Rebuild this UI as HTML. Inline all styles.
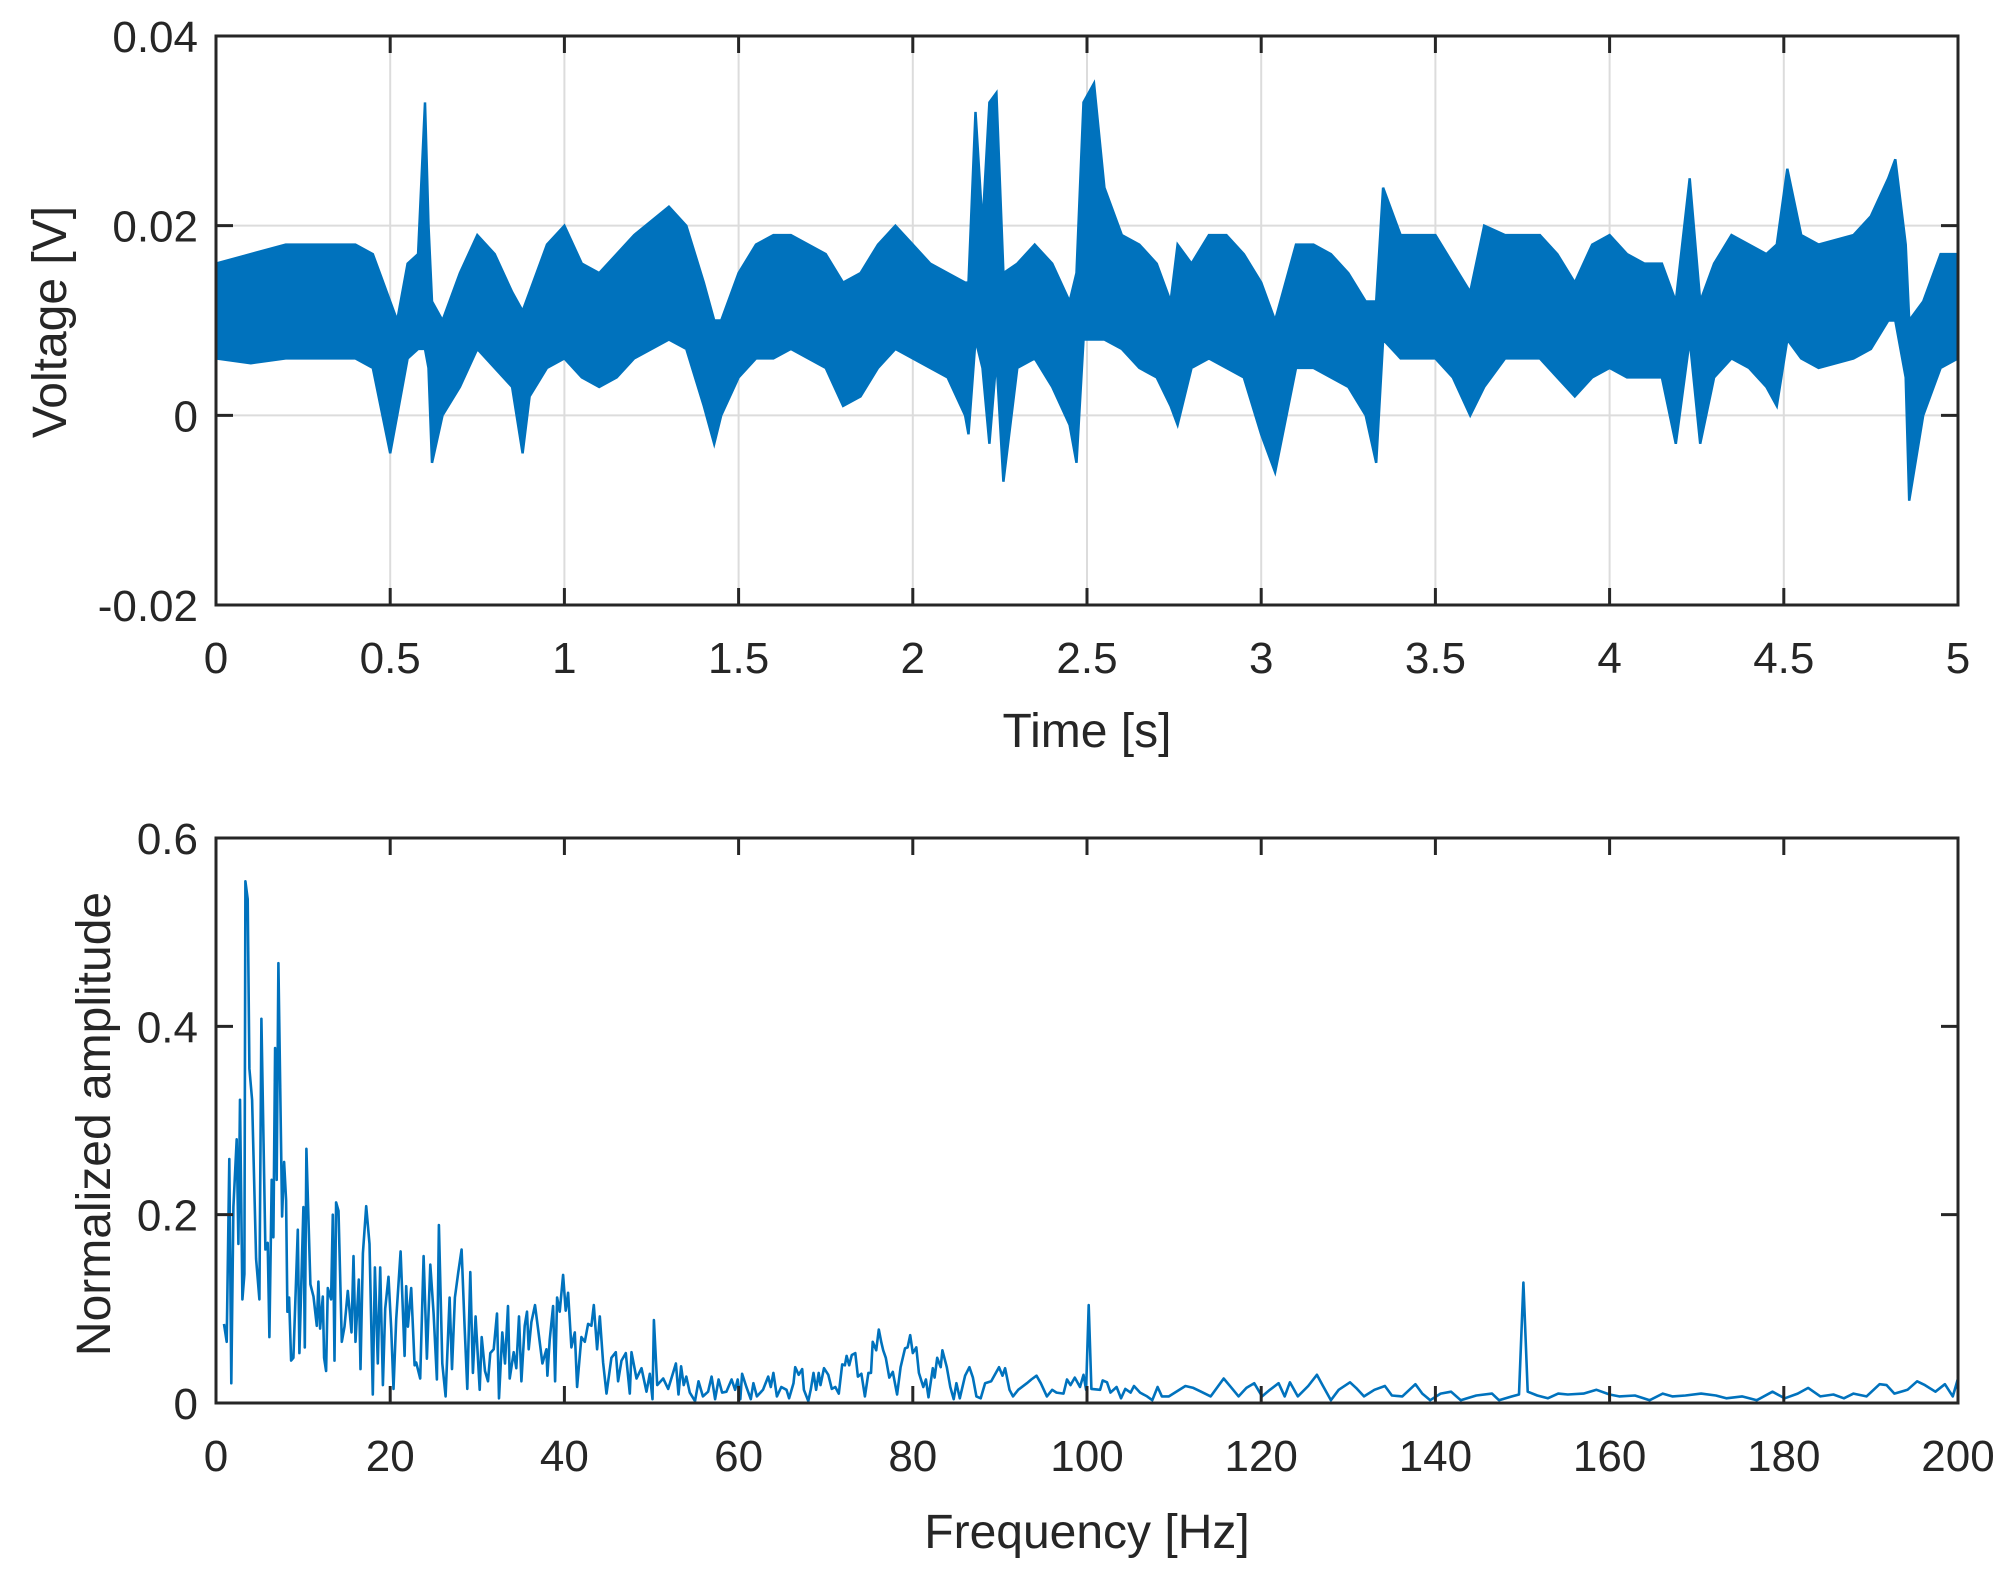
<!DOCTYPE html>
<html><head><meta charset="utf-8"><style>
html,body{margin:0;padding:0;background:#fff;}
svg{display:block;font-family:"Liberation Sans",Arial,sans-serif;}
</style></head><body>
<svg id="fig" width="2014" height="1571" viewBox="0 0 2014 1571" xmlns="http://www.w3.org/2000/svg"></svg>
<script>
// ---- Top chart data (voltage envelope, V) ----
const tTimes=[0,0.1,0.2,0.3,0.4,0.45,0.5,0.52,0.55,0.58,0.6,0.61,0.62,0.65,0.7,0.75,0.8,0.85,0.88,0.9,0.95,1.0,1.05,1.1,1.15,1.2,1.3,1.35,1.4,1.43,1.45,1.5,1.55,1.6,1.65,1.7,1.75,1.8,1.85,1.9,1.95,2.0,2.05,2.1,2.15,2.16,2.18,2.2,2.22,2.24,2.26,2.3,2.35,2.4,2.45,2.47,2.49,2.52,2.55,2.6,2.65,2.7,2.74,2.76,2.8,2.85,2.9,2.95,3.0,3.04,3.1,3.15,3.2,3.25,3.3,3.33,3.35,3.4,3.5,3.55,3.6,3.64,3.7,3.8,3.85,3.9,3.95,4.0,4.05,4.1,4.15,4.19,4.23,4.26,4.3,4.35,4.4,4.45,4.48,4.51,4.55,4.6,4.7,4.75,4.8,4.82,4.85,4.86,4.9,4.95,5.0];
const vHigh=[16,17,18,18,18,17,12,10,16,17,33,20,12,10,15,19,17,13,11,13,18,20,16,15,17,19,22,20,14,10,10,15,18,19,19,18,17,14,15,18,20,18,16,15,14,14,32,20,33,34,15,16,18,16,12,15,33,35,24,19,18,16,12,18,16,19,19,17,14,10,18,18,17,15,12,12,24,19,19,16,13,20,19,19,17,14,18,19,17,16,16,12,25,12,16,19,18,17,18,26,19,18,19,21,25,27,18,10,12,17,17];
const vLow=[6,5.5,6,6,6,5,-4,0,6,7,7,5,-5,0,3,7,5,3,-4,2,5,6,4,3,4,6,8,7,1,-3,0,4,6,6,7,6,5,1,2,5,7,6,5,4,0,-2,8,5,-3,6,-7,5,6,3,-1,-5,8,8,8,7,5,4,1,-1,5,6,5,4,-2,-6,5,5,4,3,0,-5,8,6,6,4,0,3,6,6,4,2,4,5,4,4,4,-3,8,-3,4,6,5,3,1,8,6,5,6,7,10,10,4,-9,0,5,6];
const vUnitScale=0.001;
const tTicks=[0,0.5,1,1.5,2,2.5,3,3.5,4,4.5,5];
const tTickLabels=["0","0.5","1","1.5","2","2.5","3","3.5","4","4.5","5"];
const vTicks=[-0.02,0,0.02,0.04];
const vTickLabels=["-0.02","0","0.02","0.04"];
// ---- Bottom chart data (normalized amplitude) ----
const freqHz=[0.92,1.23,1.53,1.76,2.0,2.38,2.57,2.76,3.03,3.26,3.37,3.64,3.83,4.14,4.6,4.98,5.21,5.67,5.94,6.13,6.4,6.59,6.78,6.97,7.16,7.59,7.82,8.05,8.2,8.39,8.62,8.89,9.39,9.58,10.04,10.19,10.38,10.84,11.19,11.57,11.76,11.95,12.26,12.41,12.64,12.84,13.22,13.41,13.6,13.79,14.06,14.44,14.75,15.13,15.56,15.79,16.02,16.4,16.59,16.86,17.24,17.62,18.0,18.24,18.58,18.85,19.16,19.43,19.81,20.11,20.38,20.69,21.19,21.65,21.84,22.03,22.41,22.8,22.99,23.45,23.83,24.21,24.6,24.98,25.36,25.59,25.98,26.36,26.82,27.09,27.43,27.82,28.2,28.54,28.85,29.2,29.5,29.81,30.27,30.5,30.88,31.23,31.49,31.88,32.26,32.49,32.87,33.18,33.52,33.72,34.18,34.48,34.79,35.06,35.44,35.71,35.9,36.21,36.63,37.01,37.47,37.93,38.05,38.31,38.7,38.93,39.16,39.46,39.85,40.15,40.42,40.8,41.19,41.46,41.95,42.34,42.72,43.1,43.37,43.75,44.06,44.44,44.83,45.4,45.9,46.17,46.55,47.05,47.51,47.7,48.28,48.85,49.43,49.81,50.11,50.27,50.65,51.34,51.92,52.8,53.1,53.4,53.7,54.0,54.4,55.0,55.4,55.9,56.5,56.9,57.3,57.7,58.1,58.6,59.2,59.6,59.9,60.2,60.4,60.9,61.4,61.7,62.1,62.8,63.4,63.7,64.0,64.4,64.9,65.5,65.8,66.3,66.5,66.9,67.3,67.5,68.0,68.3,68.6,68.9,69.2,69.4,69.8,70.3,70.7,71.1,71.5,71.9,72.2,72.4,72.7,73.0,73.4,73.7,74.1,74.5,74.9,75.2,75.4,75.8,76.1,76.4,76.6,76.9,77.3,77.7,78.2,78.6,79.1,79.4,79.7,80.0,80.4,80.7,81.2,81.5,81.8,82.3,82.5,82.8,83.2,83.4,83.9,84.3,84.7,85.0,85.4,86.0,86.5,86.9,87.3,87.8,88.3,89.0,89.9,90.3,90.6,91.1,91.5,92.1,93.1,93.6,94.2,94.7,95.4,96.0,96.5,97.3,97.7,98.1,98.6,99.2,99.6,99.9,100.2,100.5,101.5,101.8,102.3,102.7,103.4,103.9,104.4,105.0,105.4,106.1,106.9,107.5,108.1,108.6,109.4,111.3,112.2,113.1,114.2,115.7,116.6,117.4,118.3,119.2,120.1,121.0,122.0,122.7,123.3,124.2,125.4,126.4,127.1,128.0,128.9,130.2,130.9,131.8,133.0,134.2,135.0,136.2,137.7,138.5,139.4,140.6,141.8,142.9,144.7,146.5,147.3,148.8,149.6,150.1,150.6,151.7,152.9,154.1,155.2,157.0,158.5,160.0,161.1,162.9,164.6,166.1,167.2,168.7,170.5,172.2,173.4,175.2,176.9,178.7,180.1,181.6,182.8,184.2,185.7,186.9,188.0,189.5,191.0,191.8,192.7,194.2,195.3,196.2,197.4,198.5,199.4,200];
const ampValues=[0.084,0.065,0.259,0.021,0.208,0.28,0.169,0.322,0.11,0.137,0.554,0.535,0.355,0.322,0.153,0.11,0.408,0.163,0.17,0.07,0.237,0.176,0.377,0.237,0.467,0.198,0.256,0.215,0.097,0.112,0.045,0.048,0.184,0.053,0.208,0.059,0.27,0.126,0.113,0.082,0.129,0.079,0.113,0.048,0.034,0.122,0.11,0.2,0.045,0.213,0.204,0.065,0.081,0.119,0.075,0.156,0.065,0.131,0.036,0.159,0.209,0.169,0.009,0.144,0.042,0.144,0.019,0.1,0.134,0.079,0.015,0.089,0.161,0.05,0.124,0.081,0.122,0.04,0.043,0.026,0.156,0.047,0.147,0.095,0.025,0.189,0.042,0.007,0.112,0.036,0.112,0.139,0.163,0.081,0.015,0.139,0.032,0.092,0.014,0.07,0.034,0.023,0.053,0.057,0.095,0.005,0.075,0.042,0.103,0.026,0.054,0.037,0.092,0.023,0.082,0.097,0.057,0.086,0.104,0.076,0.042,0.057,0.029,0.067,0.103,0.023,0.112,0.097,0.136,0.098,0.117,0.059,0.075,0.017,0.07,0.065,0.084,0.082,0.104,0.057,0.092,0.043,0.01,0.048,0.054,0.023,0.045,0.053,0.01,0.054,0.026,0.037,0.012,0.031,0.004,0.088,0.019,0.026,0.015,0.042,0.009,0.039,0.019,0.028,0.011,0.002,0.023,0.007,0.012,0.028,0.004,0.025,0.011,0.012,0.025,0.014,0.025,0.004,0.031,0.017,0.004,0.021,0.007,0.014,0.028,0.017,0.032,0.007,0.017,0.014,0.005,0.021,0.038,0.03,0.036,0.014,0.002,0.015,0.032,0.014,0.032,0.019,0.037,0.03,0.015,0.017,0.01,0.041,0.04,0.05,0.04,0.051,0.053,0.028,0.031,0.007,0.032,0.032,0.065,0.056,0.078,0.064,0.056,0.048,0.027,0.033,0.009,0.038,0.058,0.059,0.072,0.053,0.059,0.032,0.017,0.025,0.006,0.037,0.027,0.048,0.038,0.056,0.038,0.017,0.004,0.021,0.005,0.029,0.038,0.027,0.007,0.005,0.021,0.023,0.038,0.029,0.037,0.014,0.007,0.014,0.021,0.025,0.029,0.021,0.007,0.014,0.011,0.01,0.025,0.019,0.027,0.017,0.03,0.014,0.104,0.015,0.014,0.024,0.022,0.011,0.017,0.005,0.015,0.011,0.018,0.011,0.007,0.003,0.017,0.007,0.007,0.018,0.016,0.012,0.007,0.026,0.016,0.007,0.016,0.021,0.007,0.014,0.021,0.007,0.022,0.007,0.018,0.03,0.018,0.003,0.014,0.022,0.016,0.007,0.014,0.018,0.008,0.007,0.02,0.01,0.003,0.01,0.012,0.003,0.008,0.01,0.003,0.007,0.009,0.128,0.012,0.008,0.005,0.01,0.009,0.01,0.014,0.009,0.007,0.008,0.003,0.01,0.007,0.008,0.01,0.008,0.005,0.007,0.003,0.012,0.005,0.01,0.016,0.007,0.009,0.005,0.01,0.007,0.02,0.019,0.01,0.014,0.023,0.019,0.012,0.02,0.007,0.026];
const fTicks=[0,20,40,60,80,100,120,140,160,180,200];
const fTickLabels=["0","20","40","60","80","100","120","140","160","180","200"];
const aTicks=[0,0.2,0.4,0.6];
const aTickLabels=["0","0.2","0.4","0.6"];

const NS="http://www.w3.org/2000/svg";
const svg=document.getElementById('fig');
function mk(tag,attrs,parent){const e=document.createElementNS(NS,tag);for(const k in attrs)e.setAttribute(k,attrs[k]);(parent||svg).appendChild(e);return e;}
const L=216,R=1958;
const top1=36,bot1=605,top2=838,bot2=1403;
function xT(t){return L+(t-0)/(5-0)*(R-L);}
function yV(v){return bot1-(v-(-0.02))/(0.04-(-0.02))*(bot1-top1);}
function xF(f){return L+f/200*(R-L);}
function yA(a){return bot2-a/0.6*(bot2-top2);}

// ---- Top panel ----
const g1=mk('g',{});


tTicks.forEach((t,i)=>{
  if(i>0&&i<tTicks.length-1){const gl=mk('line',{x1:xT(t),x2:xT(t),y1:top1,y2:bot1,stroke:'#dcdcdc','stroke-width':2},g1);
  }
});
vTicks.forEach((v,i)=>{
  if(i>0&&i<vTicks.length-1){const gl=mk('line',{x1:L,x2:R,y1:yV(v),y2:yV(v),stroke:'#dcdcdc','stroke-width':2},g1);
  }
});
let pts=[];
for(let i=0;i<tTimes.length;i++)pts.push(xT(tTimes[i]).toFixed(1)+','+yV(vHigh[i]*vUnitScale).toFixed(1));
for(let i=tTimes.length-1;i>=0;i--)pts.push(xT(tTimes[i]).toFixed(1)+','+yV(vLow[i]*vUnitScale).toFixed(1));
const band=mk('polygon',{points:pts.join(' '),fill:'#0072BD',stroke:'#0072BD','stroke-width':2.5,'stroke-linejoin':'miter'},g1);


function axes(g,top,bot,xs,xl,xf,ys,yl,yf,nameX,nameY){
  const box=mk('rect',{x:L,y:top,width:R-L,height:bot-top,fill:'none',stroke:'#262626','stroke-width':3},g);
  
  xs.forEach((v,i)=>{
    const x=xf(v);
    mk('line',{x1:x,x2:x,y1:bot,y2:bot-17,stroke:'#262626','stroke-width':3},g);
    mk('line',{x1:x,x2:x,y1:top,y2:top+17,stroke:'#262626','stroke-width':3},g);
    const tx=mk('text',{x:x,y:bot+68,'font-size':44,'text-anchor':'middle',fill:'#262626'},g);
    
    tx.textContent=xl[i];
  });
  ys.forEach((v,i)=>{
    const y=yf(v);
    mk('line',{x1:L,x2:L+17,y1:y,y2:y,stroke:'#262626','stroke-width':3},g);
    mk('line',{x1:R,x2:R-17,y1:y,y2:y,stroke:'#262626','stroke-width':3},g);
    const tx=mk('text',{x:198,y:y+16,'font-size':44,'text-anchor':'end',fill:'#262626'},g);
    
    tx.textContent=yl[i];
  });
}
axes(g1,top1,bot1,tTicks,tTickLabels,xT,vTicks,vTickLabels,yV,'x-tick-label','y-tick-label');
const xt1=mk('text',{x:(L+R)/2,y:747,'font-size':48,'text-anchor':'middle',fill:'#262626'},g1);
xt1.textContent='Time [s]';
const yt1=mk('text',{x:0,y:0,'font-size':48,'text-anchor':'middle',fill:'#262626',transform:'translate(66,322) rotate(-90)'},g1);
yt1.textContent='Voltage [V]';

// ---- Bottom panel ----
const g2=mk('g',{});


const sp=mk('polyline',{points:freqHz.map((f,i)=>xF(f).toFixed(1)+','+yA(ampValues[i]).toFixed(1)).join(' '),fill:'none',stroke:'#0072BD','stroke-width':2.6,'stroke-linejoin':'round'},g2);


axes(g2,top2,bot2,fTicks,fTickLabels,xF,aTicks,aTickLabels,yA,'x-tick-label','y-tick-label');
const xt2=mk('text',{x:(L+R)/2,y:1548,'font-size':48,'text-anchor':'middle',fill:'#262626'},g2);
xt2.textContent='Frequency [Hz]';
const yt2=mk('text',{x:0,y:0,'font-size':48,'text-anchor':'middle',fill:'#262626',transform:'translate(110,1124) rotate(-90)'},g2);
yt2.textContent='Normalized amplitude';
</script>
</body></html>
